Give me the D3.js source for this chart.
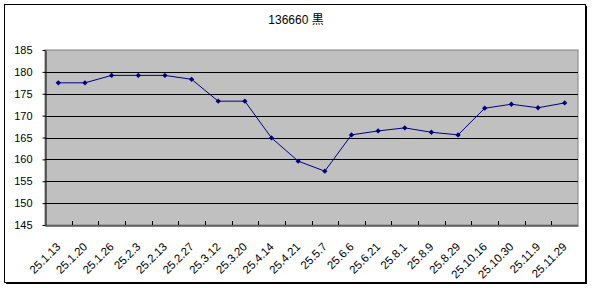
<!DOCTYPE html>
<html>
<head>
<meta charset="utf-8">
<script src="https://cdn.jsdelivr.net/npm/d3@7"></script>
<style>
  body { margin: 0; background: #fff; }
  text { font-family: "Liberation Sans", "Noto Sans CJK JP", sans-serif; }
</style>
</head>
<body>
<div id="chart"></div>
<script>
// data
var dates = ["25.1.13", "25.1.20", "25.1.26", "25.2.3", "25.2.13", "25.2.27", "25.3.12", "25.3.20",
             "25.4.14", "25.4.21", "25.5.7", "25.6.6", "25.6.21", "25.8.1", "25.8.9", "25.8.29",
             "25.10.16", "25.10.30", "25.11.9", "25.11.29"];
var prices = [177.5, 177.5, 179.2, 179.2, 179.2, 178.3, 173.3, 173.3,
              164.9, 159.6, 157.3, 165.6, 166.5, 167.2, 166.2, 165.6,
              171.7, 172.6, 171.8, 172.9];
var yTicks = [145, 150, 155, 160, 165, 170, 175, 180, 185];
var title = "136660 黒";

var W = 592, H = 288;
var margin = {top: 50, right: 14, bottom: 63, left: 45};
var width = 578 - margin.left, height = 225 - margin.top;

var svg = d3.select("#chart").append("svg")
  .attr("width", W).attr("height", H);

// outer chart border
svg.append("rect")
  .attr("x", 4.5).attr("y", 4.5)
  .attr("width", 581).attr("height", 278)
  .attr("fill", "#fff").attr("stroke", "#000").attr("stroke-width", 1);
svg.append("line").attr("x1", 586.5).attr("x2", 586.5).attr("y1", 6).attr("y2", 284)
  .attr("stroke", "#000");
svg.append("line").attr("x1", 6).attr("x2", 587).attr("y1", 283.5).attr("y2", 283.5)
  .attr("stroke", "#000");

svg.append("text")
  .attr("x", 296).attr("y", 24)
  .attr("text-anchor", "middle")
  .style("font-size", "12px")
  .text(title);

var g = svg.append("g")
  .attr("transform", "translate(" + margin.left + "," + margin.top + ")");

var x = d3.scaleBand().domain(dates).range([0, width]);
var y = d3.scaleLinear().domain([145, 185]).range([height, 0]);

// plot area
g.append("rect")
  .attr("width", width).attr("height", height)
  .attr("fill", "#c0c0c0")
  .attr("stroke", "#808080");

// gridlines
g.selectAll(".grid")
  .data(yTicks.slice(1, -1))
  .enter().append("line")
  .attr("x1", 0).attr("x2", width)
  .attr("y1", function(d) { return Math.round(y(d)) + 0.5; })
  .attr("y2", function(d) { return Math.round(y(d)) + 0.5; })
  .attr("stroke", "#000");

// y axis
var yAxis = g.append("g")
  .attr("transform", "translate(0.5,0)")
  .call(d3.axisLeft(y).tickValues(yTicks).tickSize(3).tickSizeOuter(0).tickPadding(10));
yAxis.select(".domain").attr("stroke", "#000");
yAxis.selectAll("text").style("font-size", "11px").attr("fill", "#000");

// x axis
var xAxis = g.append("g")
  .attr("transform", "translate(0," + (height + 0.5) + ")")
  .call(d3.axisBottom(x).tickSize(0).tickSizeOuter(0));
xAxis.select(".domain").attr("stroke", "#000");
xAxis.selectAll("text")
  .style("font-size", "11.5px")
  .attr("fill", "#000")
  .attr("text-anchor", "end")
  .attr("dy", "0.35em")
  .attr("transform", "translate(-2,17) rotate(-45)");

// category boundary ticks (pointing up into the plot)
g.selectAll(".xtick")
  .data(dates.slice(1))
  .enter().append("line")
  .attr("x1", function(d) { return Math.round(x(d)) + 0.5; })
  .attr("x2", function(d) { return Math.round(x(d)) + 0.5; })
  .attr("y1", height).attr("y2", height - 4)
  .attr("stroke", "#000");

// line
var line = d3.line()
  .x(function(d, i) { return x(dates[i]) + x.bandwidth() / 2; })
  .y(function(d) { return y(d); });

g.append("path")
  .datum(prices)
  .attr("fill", "none")
  .attr("stroke", "#000080")
  .attr("stroke-width", 1)
  .attr("d", line);

// diamond markers
g.selectAll(".pt")
  .data(prices)
  .enter().append("path")
  .attr("d", d3.symbol().type(d3.symbolSquare).size(14))
  .attr("transform", function(d, i) {
    return "translate(" + (x(dates[i]) + x.bandwidth() / 2) + "," + y(d) + ") rotate(45)";
  })
  .attr("fill", "#000080");
</script>
</body>
</html>
